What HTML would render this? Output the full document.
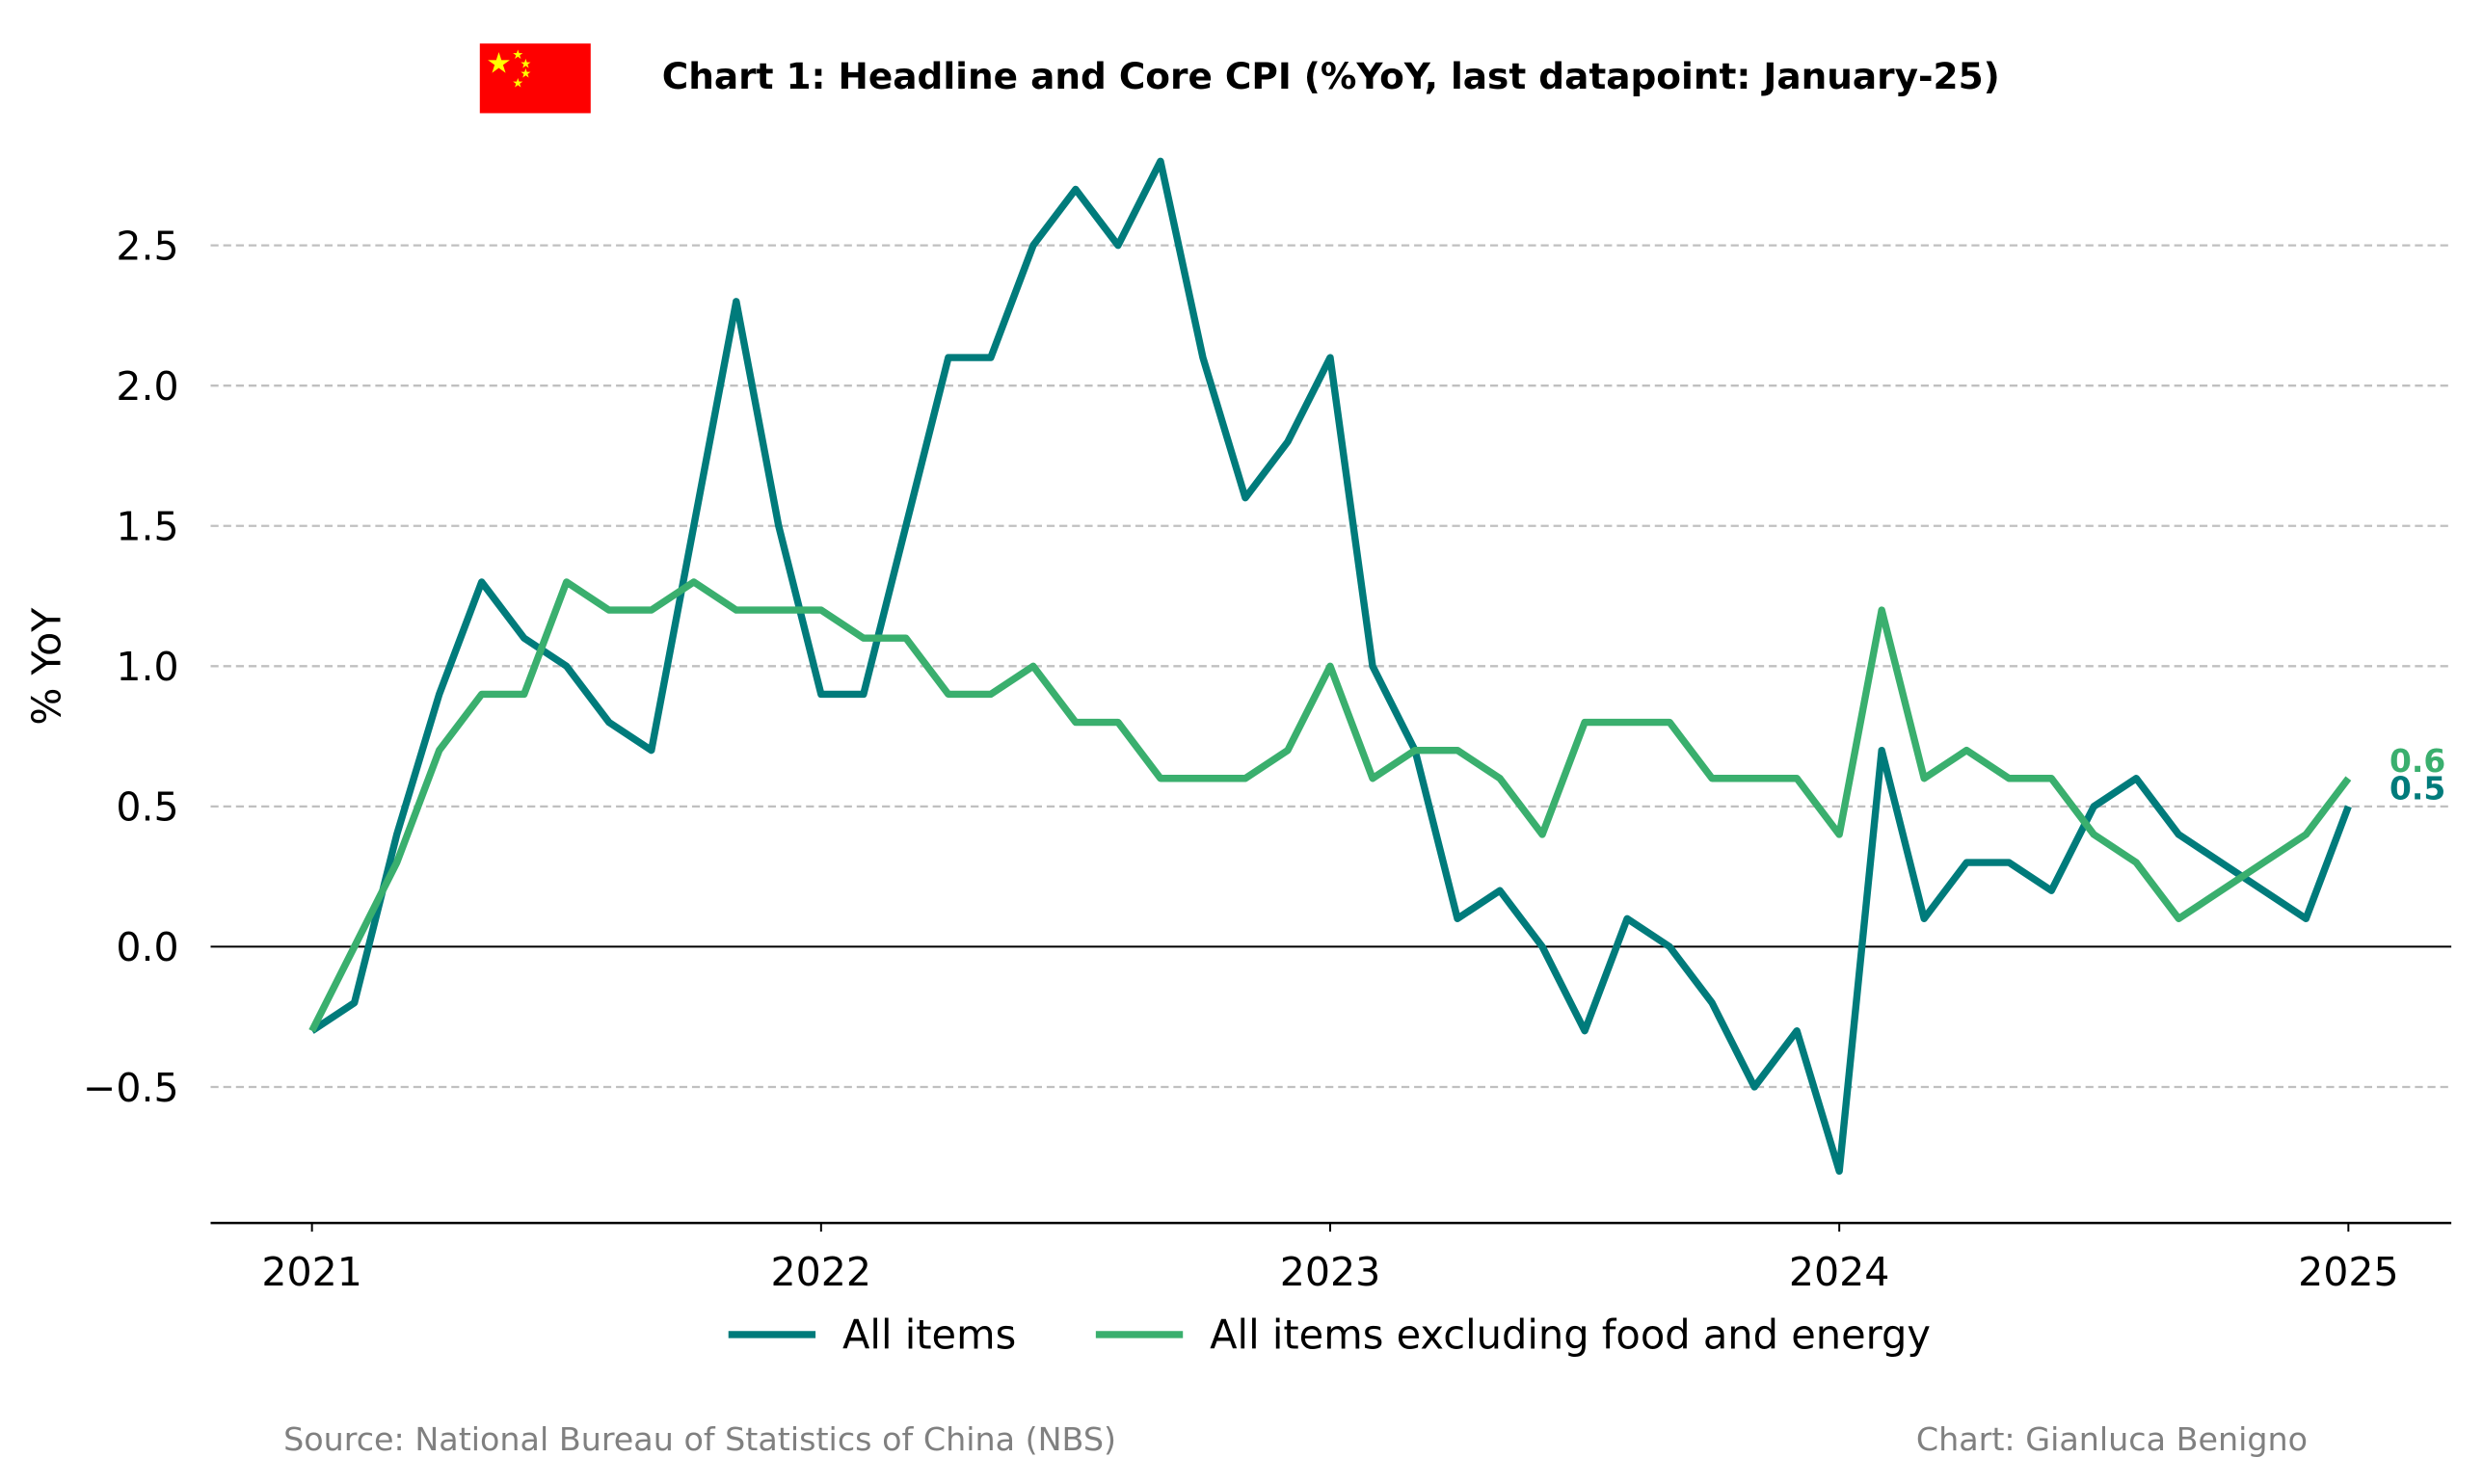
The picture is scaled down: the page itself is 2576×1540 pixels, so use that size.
<!DOCTYPE html>
<html><head><meta charset="utf-8"><style>
html,body{margin:0;padding:0;background:#fff;}
svg{display:block;font-family:"DejaVu Sans","Liberation Sans",sans-serif;}
</style></head><body>
<svg id="chart" width="2576" height="1540" viewBox="0 0 1568 937.4" xmlns="http://www.w3.org/2000/svg">
<g>
<rect x="303" y="27.5" width="70" height="44" fill="#fe0000"/>
<text x="315" y="46" font-size="18" fill="#ffff00" text-anchor="middle">★</text>
<text x="327" y="37" font-size="8" fill="#ffff00" text-anchor="middle">★</text>
<text x="332" y="43" font-size="8" fill="#ffff00" text-anchor="middle">★</text>
<text x="332" y="49" font-size="8" fill="#ffff00" text-anchor="middle">★</text>
<text x="327" y="55" font-size="8" fill="#ffff00" text-anchor="middle">★</text>
</g>
<text x="418" y="56" font-size="22.8" font-weight="bold">Chart 1: Headline and Core CPI (%YoY, last datapoint: January-25)</text>
<g id="grid"></g>
<g id="yticks"></g>
<g id="xticks"></g>
<text transform="translate(38,421) rotate(-90)" font-size="25" text-anchor="middle">% YoY</text>
<line x1="133" y1="772.5" x2="1548" y2="772.5" stroke="#000" stroke-width="1.5"/>
<g id="series"></g>
<g>
<line x1="460" y1="843" x2="515" y2="843" stroke="#007b7b" stroke-width="4.5"/>
<text x="532" y="852" font-size="25.3">All items</text>
<line x1="692" y1="843" x2="747" y2="843" stroke="#3aaf6e" stroke-width="4.5"/>
<text x="764" y="852" font-size="25.3">All items excluding food and energy</text>
</g>
<text x="179" y="916" font-size="20.3" fill="#808080">Source: National Bureau of Statistics of China (NBS)</text>
<text x="1210" y="916" font-size="20.3" fill="#808080">Chart: Gianluca Benigno</text>
</svg>
<script>
const headline = [-0.3,-0.2,0.4,0.9,1.3,1.1,1.0,0.8,0.7,1.5,2.3,1.5,
0.9,0.9,1.5,2.1,2.1,2.5,2.7,2.5,2.8,2.1,1.6,1.8,
2.1,1.0,0.7,0.1,0.2,0.0,-0.3,0.1,0.0,-0.2,-0.5,-0.3,
-0.8,0.7,0.1,0.3,0.3,0.2,0.5,0.6,0.4,0.3,0.2,0.1,
0.5];
const core = [-0.3,0.0,0.3,0.7,0.9,0.9,1.3,1.2,1.2,1.3,1.2,1.2,
1.2,1.1,1.1,0.9,0.9,1.0,0.8,0.8,0.6,0.6,0.6,0.7,
1.0,0.6,0.7,0.7,0.6,0.4,0.8,0.8,0.8,0.6,0.6,0.6,
0.4,1.2,0.6,0.7,0.6,0.6,0.4,0.3,0.1,0.2,0.3,0.4,
0.6];
const yTicks = [-0.5,0.0,0.5,1.0,1.5,2.0,2.5];
const yTickLabels = ["\u22120.5","0.0","0.5","1.0","1.5","2.0","2.5"];
const xTickYears = [2021,2022,2023,2024,2025];

const NS="http://www.w3.org/2000/svg";
const x = i => 197 + i*(1483-197)/48;
const xYear = y => x((y-2021)*12);
const yS = v => 598 - v*(598-155)/2.5;
function mk(tag, attrs, parent, txt){const e=document.createElementNS(NS,tag);for(const k in attrs)e.setAttribute(k,attrs[k]);if(txt!==undefined)e.textContent=txt;parent.appendChild(e);return e;}
const grid=document.getElementById('grid'), yt=document.getElementById('yticks'), xt=document.getElementById('xticks'), ser=document.getElementById('series');
yTicks.forEach((v,i)=>{
  let l;
  if(v===0){ l=mk('line',{x1:133,x2:1548,y1:yS(v),y2:yS(v),stroke:'#000','stroke-width':1.2},grid); }
  else { l=mk('line',{x1:133,x2:1548,y1:yS(v),y2:yS(v),stroke:'#c0c0c0','stroke-width':1.4,'stroke-dasharray':'5,3'},grid); }
  
  
  const t=mk('text',{x:113,y:yS(v)+9,'font-size':25,'text-anchor':'end'},yt,yTickLabels[i]);
  
  
});
xTickYears.forEach(yr=>{
  const tk=mk('line',{x1:xYear(yr),x2:xYear(yr),y1:772.5,y2:778,stroke:'#000','stroke-width':1.2},xt);
  
  
  const t=mk('text',{x:xYear(yr),y:812,'font-size':25,'text-anchor':'middle'},xt,String(yr));
  
  
});
function line(data,color,name){
  const p=mk('polyline',{points:data.map((v,i)=>x(i)+','+yS(v)).join(' '),fill:'none',stroke:color,'stroke-width':4.5,'stroke-linejoin':'round'},ser);
  
  
}
line(headline,'#007b7b','line-all-items');
line(core,'#3aaf6e','line-core');
const lc=core[core.length-1], lh=headline[headline.length-1];
const a1=mk('text',{x:1509,y:yS(lc)-4,'font-size':20,'font-weight':'bold',fill:'#3aaf6e'},ser,lc.toFixed(1));


const a2=mk('text',{x:1509,y:yS(lh)-4.5,'font-size':20,'font-weight':'bold',fill:'#007b7b'},ser,lh.toFixed(1));


</script>
</body></html>
